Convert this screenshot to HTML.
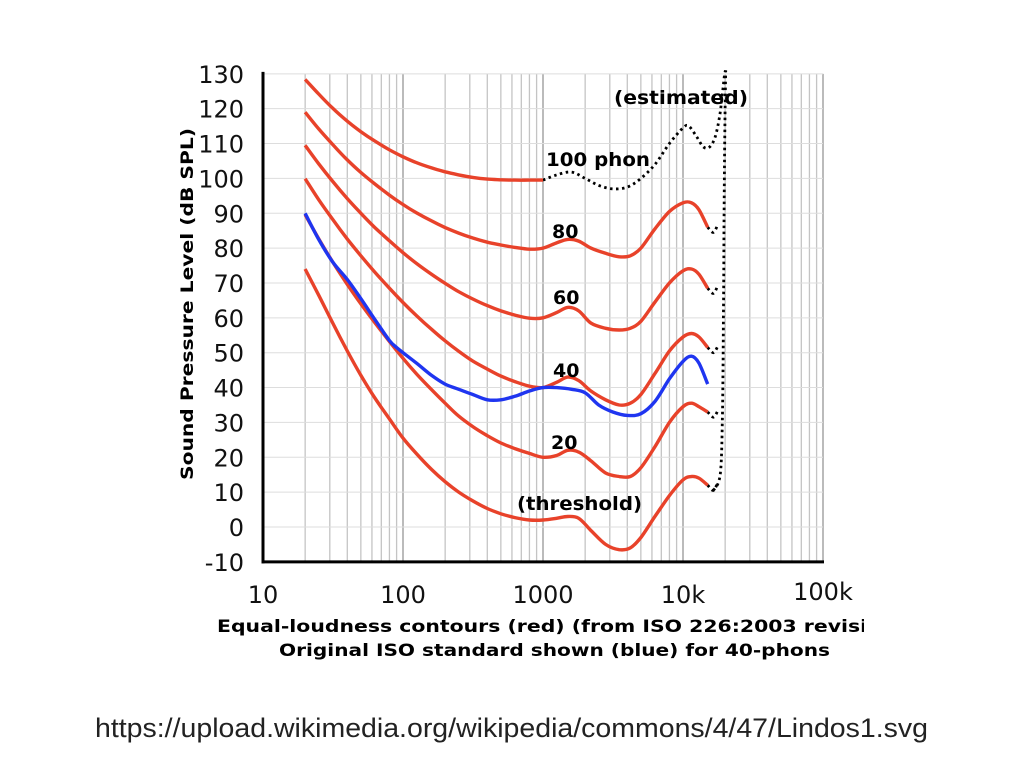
<!DOCTYPE html>
<html><head><meta charset="utf-8"><style>
html,body{margin:0;padding:0;background:#fff;width:1024px;height:768px;overflow:hidden}
svg{display:block}
text{font-family:"DejaVu Sans","Liberation Sans",sans-serif}
</style></head><body>
<svg id="chart" width="1024" height="768" viewBox="0 0 1024 768" xmlns="http://www.w3.org/2000/svg">
<defs><clipPath id="cp"><rect x="200" y="0" width="664" height="768"/></clipPath></defs>
<g id="grid"></g>
<g id="marks"></g>
<g id="axes"></g>
<text transform="translate(193,304) rotate(-90)" text-anchor="middle" font-size="17" font-weight="bold" textLength="352" lengthAdjust="spacingAndGlyphs">Sound Pressure Level (dB SPL)</text>
<g clip-path="url(#cp)">
<text x="217" y="632" font-size="17" font-weight="bold" textLength="688" lengthAdjust="spacingAndGlyphs">Equal-loudness contours (red) (from ISO 226:2003 revision)</text>
</g>
<text x="279" y="656" font-size="17" font-weight="bold" textLength="551" lengthAdjust="spacingAndGlyphs">Original ISO standard shown (blue) for 40-phons</text>
<text x="95" y="737" font-size="27" style="font-family:'Liberation Sans',sans-serif" fill="#222" textLength="833" lengthAdjust="spacingAndGlyphs">https://upload.wikimedia.org/wikipedia/commons/4/47/Lindos1.svg</text>
<text x="614" y="104" font-size="19" font-weight="bold" textLength="134" lengthAdjust="spacingAndGlyphs">(estimated)</text>
<text x="546" y="166" font-size="19" font-weight="bold" textLength="104" lengthAdjust="spacingAndGlyphs">100 phon</text>
<text x="552" y="238" font-size="19" font-weight="bold">80</text>
<text x="553" y="304" font-size="19" font-weight="bold">60</text>
<text x="553" y="377" font-size="19" font-weight="bold">40</text>
<text x="551" y="449" font-size="19" font-weight="bold">20</text>
<text x="517" y="510" font-size="19" font-weight="bold" textLength="125" lengthAdjust="spacingAndGlyphs">(threshold)</text>
</svg>
<script>
const lowFreqs=[20,25,31.5,40,50,63,80,100,125,160,200,250,315,400,500,630,800];
const highFreqs=[1000,1250,1500,1800,2200,2800,3500,4200,5000,6300,8000,10000,11500,13000,15000];
const thrLow=[74,66.5,58.5,50.5,43.5,37,31,25.5,21,16.5,13,10,7.5,5.3,3.8,2.7,2];
const thrHigh=[2,2.5,3,2.5,-1,-5,-6.5,-6,-3,3,9,13.5,14.5,14,12];
const p20Low=[89.6,82.7,76,69.6,64,58.6,53.2,48.4,43.9,39.4,35.5,31.8,28.8,26.2,24.1,22.5,21.1];
const p20High=[20,20.5,22,21.5,19,15.5,14.5,14.5,17,23,30,34.5,35.5,34.5,33];
const p40Low=[99.9,93.9,88.2,82.6,77.8,73.1,68.5,64.4,60.6,56.7,53.4,50.4,47.6,45.3,43.3,41.7,40.4];
const p40High=[40,41.5,43,42,39,36.5,35,35.5,38,44,50.5,54.5,55.5,54.5,51.5];
const p60Low=[109.5,104.2,99.1,94.2,90,85.9,82.1,78.7,75.6,72.5,69.9,67.5,65.4,63.5,62,60.8,59.9];
const p60High=[60,61.5,63,62,58.5,57,56.5,57,59,64.5,70,73.5,74,72.5,68.5];
const p80Low=[119,114.2,109.7,105.3,101.7,98.4,95.2,92.5,90.1,87.8,85.9,84.3,82.9,81.7,80.9,80.2,79.7];
const p80High=[80,81.5,82.5,82,80,78.5,77.5,77.8,80,85.5,90.5,93,93,91,86];
const p100Low=[128.4,124.2,120.1,116.4,113.4,110.7,108.2,106.2,104.5,103,101.9,101,100.3,99.8,99.6,99.5,99.5];
const p100End=[99.5];
const estFreqs=[1000,1250,1600,2000,2500,3150,4000,5000,6300,8000,10000,11000,12500,14000,15500,17000,18300,19200,19700,20100];
const estValues=[99.5,101,101.8,100,98,97,97.5,100,104,110,114.5,115,112,109,109,112,118,125,129,131];
const tailFreqs=[15000,16500,17800];
const tailThr=[12,10.5,13];
const tail20=[33,31.5,33.5];
const tail40=[51.5,50,52];
const tail60=[68.5,67,69.5];
const tail80=[86,84.5,87];
const vertFreqs=[16500,18000,18700,19100,19300,19450,19550,19650,19800,20000,20200];
const vertValues=[10.5,13,18,30,45,60,75,90,105,120,131];
const blueFreqs=[20,25,31.5,40,50,63,80,90,100,125,160,200,250,315,400,500,630,800,1000,1250,1600,2000,2500,3150,4000,5000,6300,8000,10000,11500,13000,15000];
const blueValues=[90,82.5,76,71,65.5,59.5,53.5,51.5,50,47,43.5,41,39.5,38,36.5,36.5,37.5,39,40,40,39.5,38.5,35,33,32,32.5,36,42.5,47.5,49,47,41];
const yTicks=[-10,0,10,20,30,40,50,60,70,80,90,100,110,120,130];
const xTicks=[10,100,1000,10000,100000];
const xTickLabels=["10","100","1000","10k","100k"];

const X0=263,DEC=140,Y0=527,PDB=3.486;
const xs=f=>X0+DEC*Math.log10(f/10);
const ys=v=>Y0-v*PDB;
const NS="http://www.w3.org/2000/svg";
function mk(tag,attrs,parent){const e=document.createElementNS(NS,tag);for(const k in attrs)e.setAttribute(k,attrs[k]);parent.appendChild(e);return e;}
function smooth(fr,vals){
  const p=fr.map((f,i)=>[xs(f),ys(vals[i])]);
  let d="M"+p[0][0].toFixed(1)+","+p[0][1].toFixed(1);
  for(let i=0;i<p.length-1;i++){
    const a=p[i-1]||p[i],b=p[i],c=p[i+1],e=p[i+2]||c;
    const c1=[b[0]+(c[0]-a[0])/6,b[1]+(c[1]-a[1])/6],c2=[c[0]-(e[0]-b[0])/6,c[1]-(e[1]-b[1])/6];
    d+=" C"+c1.map(n=>n.toFixed(1))+" "+c2.map(n=>n.toFixed(1))+" "+c[0].toFixed(1)+","+c[1].toFixed(1);
  }
  return d;
}
const grid=document.getElementById('grid'),marks=document.getElementById('marks'),axes=document.getElementById('axes');
for(let dec=10;dec<100000;dec*=10){for(let m=1;m<=9;m++){const f=dec*m;if(f<=10)continue;
  const l=mk('line',{x1:xs(f),x2:xs(f),y1:ys(130),y2:ys(-10),stroke:m===1?'#aaa':'#c4c4c4','stroke-width':m===1?1.6:1.3},grid);
  
  }}
{const l=mk('line',{x1:xs(100000),x2:xs(100000),y1:ys(130),y2:ys(-10),stroke:'#aaa','stroke-width':1.6},grid);

}
yTicks.forEach(v=>{
  const l=mk('line',{x1:X0,x2:xs(100000),y1:ys(v),y2:ys(v),stroke:'#ddd','stroke-width':1},grid);
  
  
  const t=mk('text',{x:244,y:ys(v)+9,'text-anchor':'end','font-size':24,fill:'#111'},axes);
  t.textContent=String(v);
  
  
});
xTicks.forEach((f,i)=>{
  const t=mk('text',{x:xs(f),y:i===4?600:603,'text-anchor':'middle','font-size':24,fill:'#111'},axes);
  t.textContent=xTickLabels[i];
  
  
});
{const a=mk('line',{x1:X0,x2:X0,y1:ys(130)-2,y2:ys(-10)+1.5,stroke:'#000','stroke-width':3},axes);


const b=mk('line',{x1:X0-1.5,x2:xs(100000)+1,y1:ys(-10),y2:ys(-10),stroke:'#000','stroke-width':3},axes);

}
const dotted={stroke:'#000','stroke-width':2.8,fill:'none','stroke-dasharray':'2.5 3.5'};
function dot(fr,v,name){const p=mk('path',Object.assign({d:smooth(fr,v)},dotted),marks);
  
  }
dot(estFreqs,estValues,'estimated-100-phon');
dot(tailFreqs,tailThr,'estimated-tail-threshold');
dot(tailFreqs,tail20,'estimated-tail-20');
dot(tailFreqs,tail40,'estimated-tail-40');
dot(tailFreqs,tail60,'estimated-tail-60');
dot(tailFreqs,tail80,'estimated-tail-80');
dot(vertFreqs,vertValues,'estimated-upper-limit');
const red=[['threshold-curve',thrLow,thrHigh],['phon-20-curve',p20Low,p20High],['phon-40-curve',p40Low,p40High],['phon-60-curve',p60Low,p60High],['phon-80-curve',p80Low,p80High]];
red.forEach(([n,lo,hi])=>{
  const p=mk('path',{d:smooth(lowFreqs.concat(highFreqs),lo.concat(hi)),stroke:'#e8422a','stroke-width':3.4,fill:'none','stroke-linejoin':'round'},marks);
  
  
});
{const p=mk('path',{d:smooth(lowFreqs.concat([1000]),p100Low.concat(p100End)),stroke:'#e8422a','stroke-width':3.4,fill:'none'},marks);


const b=mk('path',{d:smooth(blueFreqs,blueValues),stroke:'#1f35f0','stroke-width':3.4,fill:'none'},marks);

}
</script>
</body></html>
